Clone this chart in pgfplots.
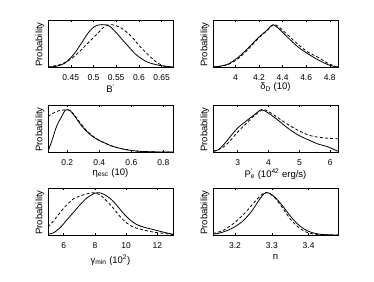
\documentclass[border=0pt]{standalone}
\usepackage{pgfplots}
\pgfplotsset{compat=1.18}
\usepackage{fontspec}
\setmainfont{Liberation Sans}

\pgfplotsset{
  panel/.style={
    scale only axis, width=125pt, height=47pt,
    anchor=south west,
    ymin=0, ymax=1.11, ytick=\empty,
    tick align=inside, major tick length=2pt,
    every tick/.style={black, line width=0.4pt},
    axis line style={line width=0.5pt},
    /pgf/number format/assume math mode=true,
    ticklabel style={font=\fontsize{8.5}{9}\selectfont},
    xticklabel style={anchor=base, yshift=-13.5pt},
    label style={font=\fontsize{9.5}{10}\selectfont},
    ylabel={Probability},
    ylabel style={at={(axis description cs:0,0.5)}, anchor=south, xshift=-1pt},
    xlabel style={at={(axis description cs:0.5,0)}, anchor=base},
  },
  sol/.style={black, line width=0.8pt, smooth, tension=0.5, no marks},
  das/.style={black, line width=0.8pt, smooth, tension=0.5, no marks, dash pattern=on 3pt off 2.2pt},
}

\begin{document}
\begin{tikzpicture}
\useasboundingbox (0,0) rectangle (374pt,281pt);

% Panel 1
\begin{axis}[panel, at={(48pt,214pt)}, xmin=0.40, xmax=0.675,
  xtick={0.45,0.5,0.55,0.6,0.65},
  xlabel={B\textsuperscript{'}}, xlabel style={yshift=-26pt}]
\addplot[sol] coordinates {(0.400,0) (0.419,0.02) (0.437,0.09) (0.456,0.29) (0.474,0.57) (0.488,0.80) (0.499,0.93) (0.510,0.99) (0.525,1) (0.536,0.96) (0.551,0.80) (0.573,0.53) (0.594,0.29) (0.616,0.13) (0.638,0.055) (0.660,0.016) (0.675,0)};
\addplot[das] coordinates {(0.400,0) (0.426,0.055) (0.448,0.17) (0.470,0.37) (0.492,0.61) (0.510,0.80) (0.525,0.96) (0.540,1) (0.558,0.94) (0.580,0.76) (0.602,0.49) (0.624,0.25) (0.642,0.09) (0.657,0.016) (0.675,0)};
\end{axis}

% Panel 2
\begin{axis}[panel, at={(213pt,214pt)}, xmin=3.81, xmax=4.87,
  xtick={4,4.2,4.4,4.6,4.8},
  xlabel={δ\textsubscript{D} (10)}, xlabel style={yshift=-23pt}]
\addplot[sol] coordinates {(3.81,0) (3.869,0.02) (3.94,0.07) (4.024,0.23) (4.109,0.45) (4.193,0.69) (4.264,0.86) (4.306,0.98) (4.32,1) (4.363,0.92) (4.447,0.69) (4.532,0.47) (4.616,0.31) (4.70,0.17) (4.785,0.055) (4.84,0.01) (4.87,0)};
\addplot[das] coordinates {(3.81,0) (3.87,0.015) (3.94,0.06) (4.024,0.20) (4.109,0.42) (4.193,0.67) (4.264,0.85) (4.306,0.97) (4.33,1) (4.363,0.96) (4.447,0.75) (4.532,0.53) (4.616,0.35) (4.70,0.23) (4.77,0.11) (4.84,0.02) (4.87,0)};
\end{axis}

% Panel 3
\begin{axis}[panel, at={(48pt,129pt)}, xmin=0.08, xmax=0.86,
  xtick={0.2,0.4,0.6,0.8},
  xlabel={η\textsubscript{esc} (10)}, xlabel style={yshift=-23.5pt}]
\addplot[sol] coordinates {(0.08,0.016) (0.103,0.25) (0.134,0.61) (0.165,0.84) (0.186,0.98) (0.196,1) (0.217,0.98) (0.248,0.84) (0.279,0.67) (0.32,0.49) (0.372,0.33) (0.424,0.23) (0.487,0.13) (0.569,0.055) (0.652,0.016) (0.756,0.002) (0.86,0)};
\addplot[das] coordinates {(0.08,0.84) (0.113,0.92) (0.144,0.97) (0.175,0.99) (0.196,1) (0.217,0.98) (0.248,0.86) (0.279,0.70) (0.32,0.51) (0.372,0.34) (0.424,0.23) (0.487,0.13) (0.569,0.055) (0.652,0.016) (0.756,0.002) (0.86,0)};
\end{axis}

% Panel 4
\begin{axis}[panel, at={(213pt,129pt)}, xmin=2.2, xmax=6.25,
  xtick={3,4,5,6},
  xlabel={P\rlap{\textsuperscript{'}}\textsubscript{e} (10\textsuperscript{42} erg/s)}, xlabel style={yshift=-25pt}]
\addplot[sol] coordinates {(2.2,0.016) (2.37,0.05) (2.59,0.21) (2.8,0.40) (3.02,0.58) (3.29,0.74) (3.56,0.89) (3.77,1) (3.99,0.92) (4.31,0.75) (4.63,0.56) (4.96,0.40) (5.28,0.29) (5.6,0.19) (5.93,0.12) (6.25,0.016)};
\addplot[das] coordinates {(2.2,0.016) (2.48,0.09) (2.7,0.22) (2.96,0.44) (3.23,0.64) (3.56,0.87) (3.83,1) (4.1,0.91) (4.42,0.75) (4.74,0.6) (5.07,0.47) (5.39,0.38) (5.71,0.34) (6.03,0.32) (6.25,0.31)};
\end{axis}

% Panel 5
\begin{axis}[panel, at={(48pt,46pt)}, xmin=5, xmax=13,
  xtick={6,8,10,12},
  xlabel={γ\textsubscript{min} (10\textsuperscript{2})}, xlabel style={yshift=-28pt}]
\addplot[sol] coordinates {(5,0.016) (5.34,0.05) (5.77,0.17) (6.19,0.35) (6.62,0.53) (7.04,0.71) (7.47,0.87) (7.89,0.97) (8.21,1) (8.53,0.97) (8.96,0.87) (9.38,0.71) (9.81,0.52) (10.24,0.36) (10.66,0.25) (11.09,0.19) (11.72,0.13) (12.36,0.07) (13,0.016)};
\addplot[das] coordinates {(5,0.19) (5.34,0.33) (5.77,0.53) (6.19,0.71) (6.62,0.85) (7.04,0.92) (7.47,0.97) (7.89,1) (8.32,0.95) (8.74,0.81) (9.17,0.64) (9.6,0.44) (10.02,0.29) (10.45,0.19) (11.09,0.12) (11.72,0.07) (12.36,0.04) (13,0.01)};
\end{axis}

% Panel 6
\begin{axis}[panel, at={(213pt,46pt)}, xmin=3.14, xmax=3.48,
  xtick={3.2,3.3,3.4},
  xlabel={n}, xlabel style={yshift=-24pt}]
\addplot[sol] coordinates {(3.14,0.02) (3.16,0.05) (3.19,0.15) (3.22,0.32) (3.245,0.56) (3.265,0.82) (3.278,0.97) (3.285,1.0) (3.295,0.98) (3.31,0.88) (3.33,0.68) (3.35,0.45) (3.37,0.26) (3.39,0.13) (3.41,0.055) (3.43,0.02) (3.45,0.005) (3.48,0)};
\addplot[das] coordinates {(3.14,0.03) (3.17,0.12) (3.2,0.3) (3.23,0.55) (3.255,0.8) (3.275,0.97) (3.285,1.0) (3.295,0.97) (3.31,0.86) (3.33,0.63) (3.35,0.38) (3.37,0.2) (3.39,0.08) (3.41,0.03) (3.43,0.01) (3.48,0)};
\end{axis}
\end{tikzpicture}
\end{document}
